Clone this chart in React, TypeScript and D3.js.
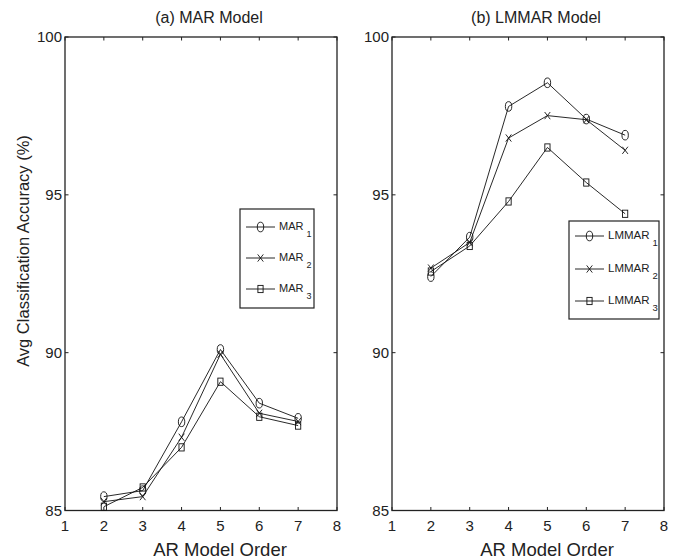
import React from "react";
import * as d3 from "d3";

const orders = [2, 3, 4, 5, 6, 7];
const xTicks = [1, 2, 3, 4, 5, 6, 7, 8];
const yTicks = [85, 90, 95, 100];

const mar1 = [85.44, 85.63, 87.81, 90.1, 88.4, 87.92];
const mar2 = [85.28, 85.44, 87.32, 89.95, 88.08, 87.82];
const mar3 = [85.12, 85.73, 87.0, 89.08, 87.97, 87.69];

const lmmar1 = [92.41, 93.66, 97.8, 98.55, 97.4, 96.89];
const lmmar2 = [92.68, 93.49, 96.8, 97.51, 97.38, 96.41];
const lmmar3 = [92.57, 93.38, 94.79, 96.5, 95.39, 94.4];

const markers = ["o", "x", "s"];
const FONT = "'Liberation Sans', Arial, Helvetica, sans-serif";

function Marker({ type, x, y }: { type: string; x: number; y: number }) {
  if (type === "o")
    return <ellipse cx={x} cy={y} rx={3.2} ry={4.8} fill="none" stroke="#111" strokeWidth={0.9} />;
  if (type === "x")
    return (
      <g stroke="#111" strokeWidth={0.9}>
        <line x1={x - 2.8} y1={y - 3.6} x2={x + 2.8} y2={y + 3.6} />
        <line x1={x - 2.8} y1={y + 3.6} x2={x + 2.8} y2={y - 3.6} />
      </g>
    );
  return <rect x={x - 2.6} y={y - 3.6} width={5.2} height={7.2} fill="none" stroke="#111" strokeWidth={0.9} />;
}

type PanelProps = {
  x0: number;
  x1: number;
  title: string;
  series: number[][];
  names: string[];
  legend: { x: number; y: number; w: number; h: number; rows: number[]; fs: number };
  yLabel?: boolean;
};

function Panel({ x0, x1, title, series, names, legend, yLabel }: PanelProps) {
  const y0 = 510.5;
  const y1 = 37;
  const xs = d3.scaleLinear().domain([1, 8]).range([x0, x1]);
  const ys = d3.scaleLinear().domain([85, 100]).range([y0, y1]);
  const line = d3
    .line<number>()
    .x((_, i) => xs(orders[i]))
    .y((d) => ys(d));
  const cx = (x0 + x1) / 2;
  const tl = 3.5;
  return (
    <g fontFamily={FONT}>
      <text x={cx + 8} y={23} fontSize={16} textAnchor="middle" fill="#222">
        {title}
      </text>
      {xTicks.map((t) => (
        <g key={"x" + t}>
          <line x1={xs(t)} x2={xs(t)} y1={y0} y2={y0 - tl} stroke="#222" strokeWidth={1} />
          <line x1={xs(t)} x2={xs(t)} y1={y1} y2={y1 + tl} stroke="#222" strokeWidth={1} />
          <text x={xs(t)} y={531} fontSize={15} textAnchor="middle" fill="#222">
            {t}
          </text>
        </g>
      ))}
      {yTicks.map((t) => (
        <g key={"y" + t}>
          <line x1={x0} x2={x0 + tl} y1={ys(t)} y2={ys(t)} stroke="#222" strokeWidth={1} />
          <line x1={x1} x2={x1 - tl} y1={ys(t)} y2={ys(t)} stroke="#222" strokeWidth={1} />
          <text x={x0 - 3} y={ys(t)} dy="0.36em" fontSize={15} textAnchor="end" fill="#222">
            {t}
          </text>
        </g>
      ))}
      <rect x={x0} y={y1} width={x1 - x0} height={y0 - y1} fill="none" stroke="#222" strokeWidth={1.3} />
      <text x={cx + 19} y={556} fontSize={18.5} textAnchor="middle" fill="#222">
        AR Model Order
      </text>
      {yLabel && (
        <text
          transform={`translate(29,251) rotate(-90)`}
          fontSize={16.5}
          textAnchor="middle"
          fill="#222"
        >
          Avg Classification Accuracy (%)
        </text>
      )}
      {series.map((s, si) => (
        <g key={"s" + si}>
          <path d={line(s) || ""} fill="none" stroke="#111" strokeWidth={0.9} />
          {s.map((v, i) => (
            <Marker key={i} type={markers[si]} x={xs(orders[i])} y={ys(v)} />
          ))}
        </g>
      ))}
      <rect
        x={legend.x}
        y={legend.y}
        width={legend.w}
        height={legend.h}
        fill="#fff"
        stroke="#222"
        strokeWidth={1.2}
      />
      {names.map((n, i) => {
        const ry = legend.rows[i];
        const lx0 = legend.x + 6;
        const lx1 = lx0 + 29;
        return (
          <g key={"l" + i}>
            <line x1={lx0} x2={lx1} y1={ry} y2={ry} stroke="#111" strokeWidth={0.9} />
            <Marker type={markers[i]} x={(lx0 + lx1) / 2} y={ry} />
            <text x={lx1 + 4} y={ry} dy="0.3em" fontSize={legend.fs} fill="#222">
              {n}
              <tspan dx={3} dy={7} fontSize={legend.fs - 2}>
                {i + 1}
              </tspan>
            </text>
          </g>
        );
      })}
    </g>
  );
}

export default function App() {
  return (
    <svg
      width={673}
      height={560}
      style={{ position: "absolute", left: 0, top: 0, background: "#fff" }}
    >
      <rect x={0} y={0} width={673} height={560} fill="#fff" />
      <Panel
        x0={65}
        x1={337}
        title="(a) MAR Model"
        series={[mar1, mar2, mar3]}
        names={["MAR", "MAR", "MAR"]}
        legend={{ x: 240, y: 209, w: 74, h: 99, rows: [227, 258, 289], fs: 11 }}
        yLabel
      />
      <Panel
        x0={392}
        x1={664}
        title="(b) LMMAR Model"
        series={[lmmar1, lmmar2, lmmar3]}
        names={["LMMAR", "LMMAR", "LMMAR"]}
        legend={{ x: 569, y: 221, w: 90, h: 98, rows: [236, 269, 301], fs: 11.5 }}
      />
    </svg>
  );
}
